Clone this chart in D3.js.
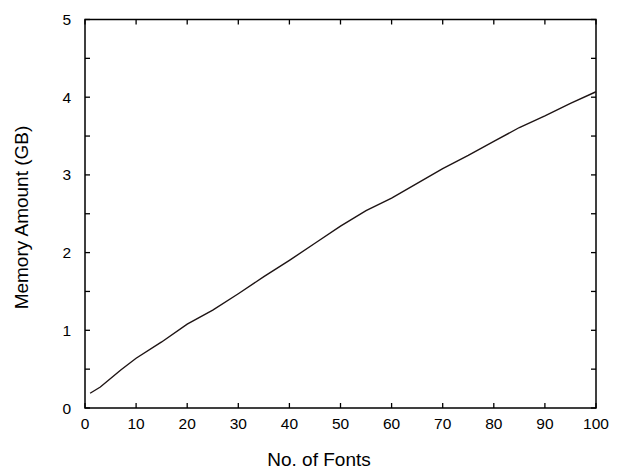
<!DOCTYPE html>
<html>
<head>
<meta charset="utf-8">
<script src="https://cdn.jsdelivr.net/npm/d3@7"></script>
<style>
html,body{margin:0;padding:0;background:#fff;}
svg{display:block;}
text{font-family:"Liberation Sans",Arial,sans-serif;fill:#000;}
</style>
</head>
<body>
<svg id="chart" width="625" height="472"></svg>
<script>
const fonts = [1, 3, 5, 7, 10, 15, 20, 25, 30, 35, 40, 45, 50, 55, 60, 65, 70, 75, 80, 85, 90, 95, 100];
const memory = [0.19, 0.27, 0.38, 0.49, 0.64, 0.85, 1.08, 1.26, 1.47, 1.69, 1.90, 2.12, 2.34, 2.54, 2.70, 2.89, 3.08, 3.25, 3.43, 3.61, 3.76, 3.92, 4.07];
const xTicks = [0, 10, 20, 30, 40, 50, 60, 70, 80, 90, 100];
const yTicks = [0, 1, 2, 3, 4, 5];
const yMinorTicks = [0.5, 1.5, 2.5, 3.5, 4.5];
const xTitle = "No. of Fonts";
const yTitle = "Memory Amount (GB)";

const svg = d3.select("#chart");
const L = 85, R = 596, T = 19.5, B = 408;
const x = d3.scaleLinear().domain([0, 100]).range([L, R]);
const y = d3.scaleLinear().domain([0, 5]).range([B, T]);
const tk = 5;

const g = svg.append("g");

// ticks (mirrored, inward)
const allY = yTicks.concat(yMinorTicks);
g.selectAll(".tyl").data(allY).join("line")
  .attr("x1", L).attr("x2", L + tk)
  .attr("y1", d => y(d)).attr("y2", d => y(d))
  .attr("stroke", "#000").attr("stroke-width", 1.3);
g.selectAll(".tyr").data(allY).join("line")
  .attr("x1", R).attr("x2", R - tk)
  .attr("y1", d => y(d)).attr("y2", d => y(d))
  .attr("stroke", "#000").attr("stroke-width", 1.3);
g.selectAll(".txb").data(xTicks).join("line")
  .attr("x1", d => x(d)).attr("x2", d => x(d))
  .attr("y1", B).attr("y2", B - tk)
  .attr("stroke", "#000").attr("stroke-width", 1.3);
g.selectAll(".txt").data(xTicks).join("line")
  .attr("x1", d => x(d)).attr("x2", d => x(d))
  .attr("y1", T).attr("y2", T + tk)
  .attr("stroke", "#000").attr("stroke-width", 1.3);

// frame
g.append("rect").attr("x", L).attr("y", T).attr("width", R - L).attr("height", B - T)
  .attr("fill", "none").attr("stroke", "#000").attr("stroke-width", 1.5);

// tick labels
g.selectAll(".lx").data(xTicks).join("text")
  .attr("x", d => x(d)).attr("y", 429)
  .attr("text-anchor", "middle").attr("font-size", 15.5)
  .text(d => d);
g.selectAll(".ly").data(yTicks).join("text")
  .attr("x", L - 14).attr("y", d => y(d) + 5.5)
  .attr("text-anchor", "end").attr("font-size", 15.5)
  .text(d => d);

// line
const line = d3.line().x((d, i) => x(fonts[i])).y(d => y(d));
g.append("path").datum(memory)
  .attr("d", line)
  .attr("fill", "none").attr("stroke", "#1e1414").attr("stroke-width", 1.4);

// titles
svg.append("text").attr("x", 319).attr("y", 466)
  .attr("text-anchor", "middle").attr("font-size", 19).text(xTitle);
svg.append("text").attr("transform", "translate(28,217.5) rotate(-90)")
  .attr("text-anchor", "middle").attr("font-size", 19).text(yTitle);
</script>
</body>
</html>
